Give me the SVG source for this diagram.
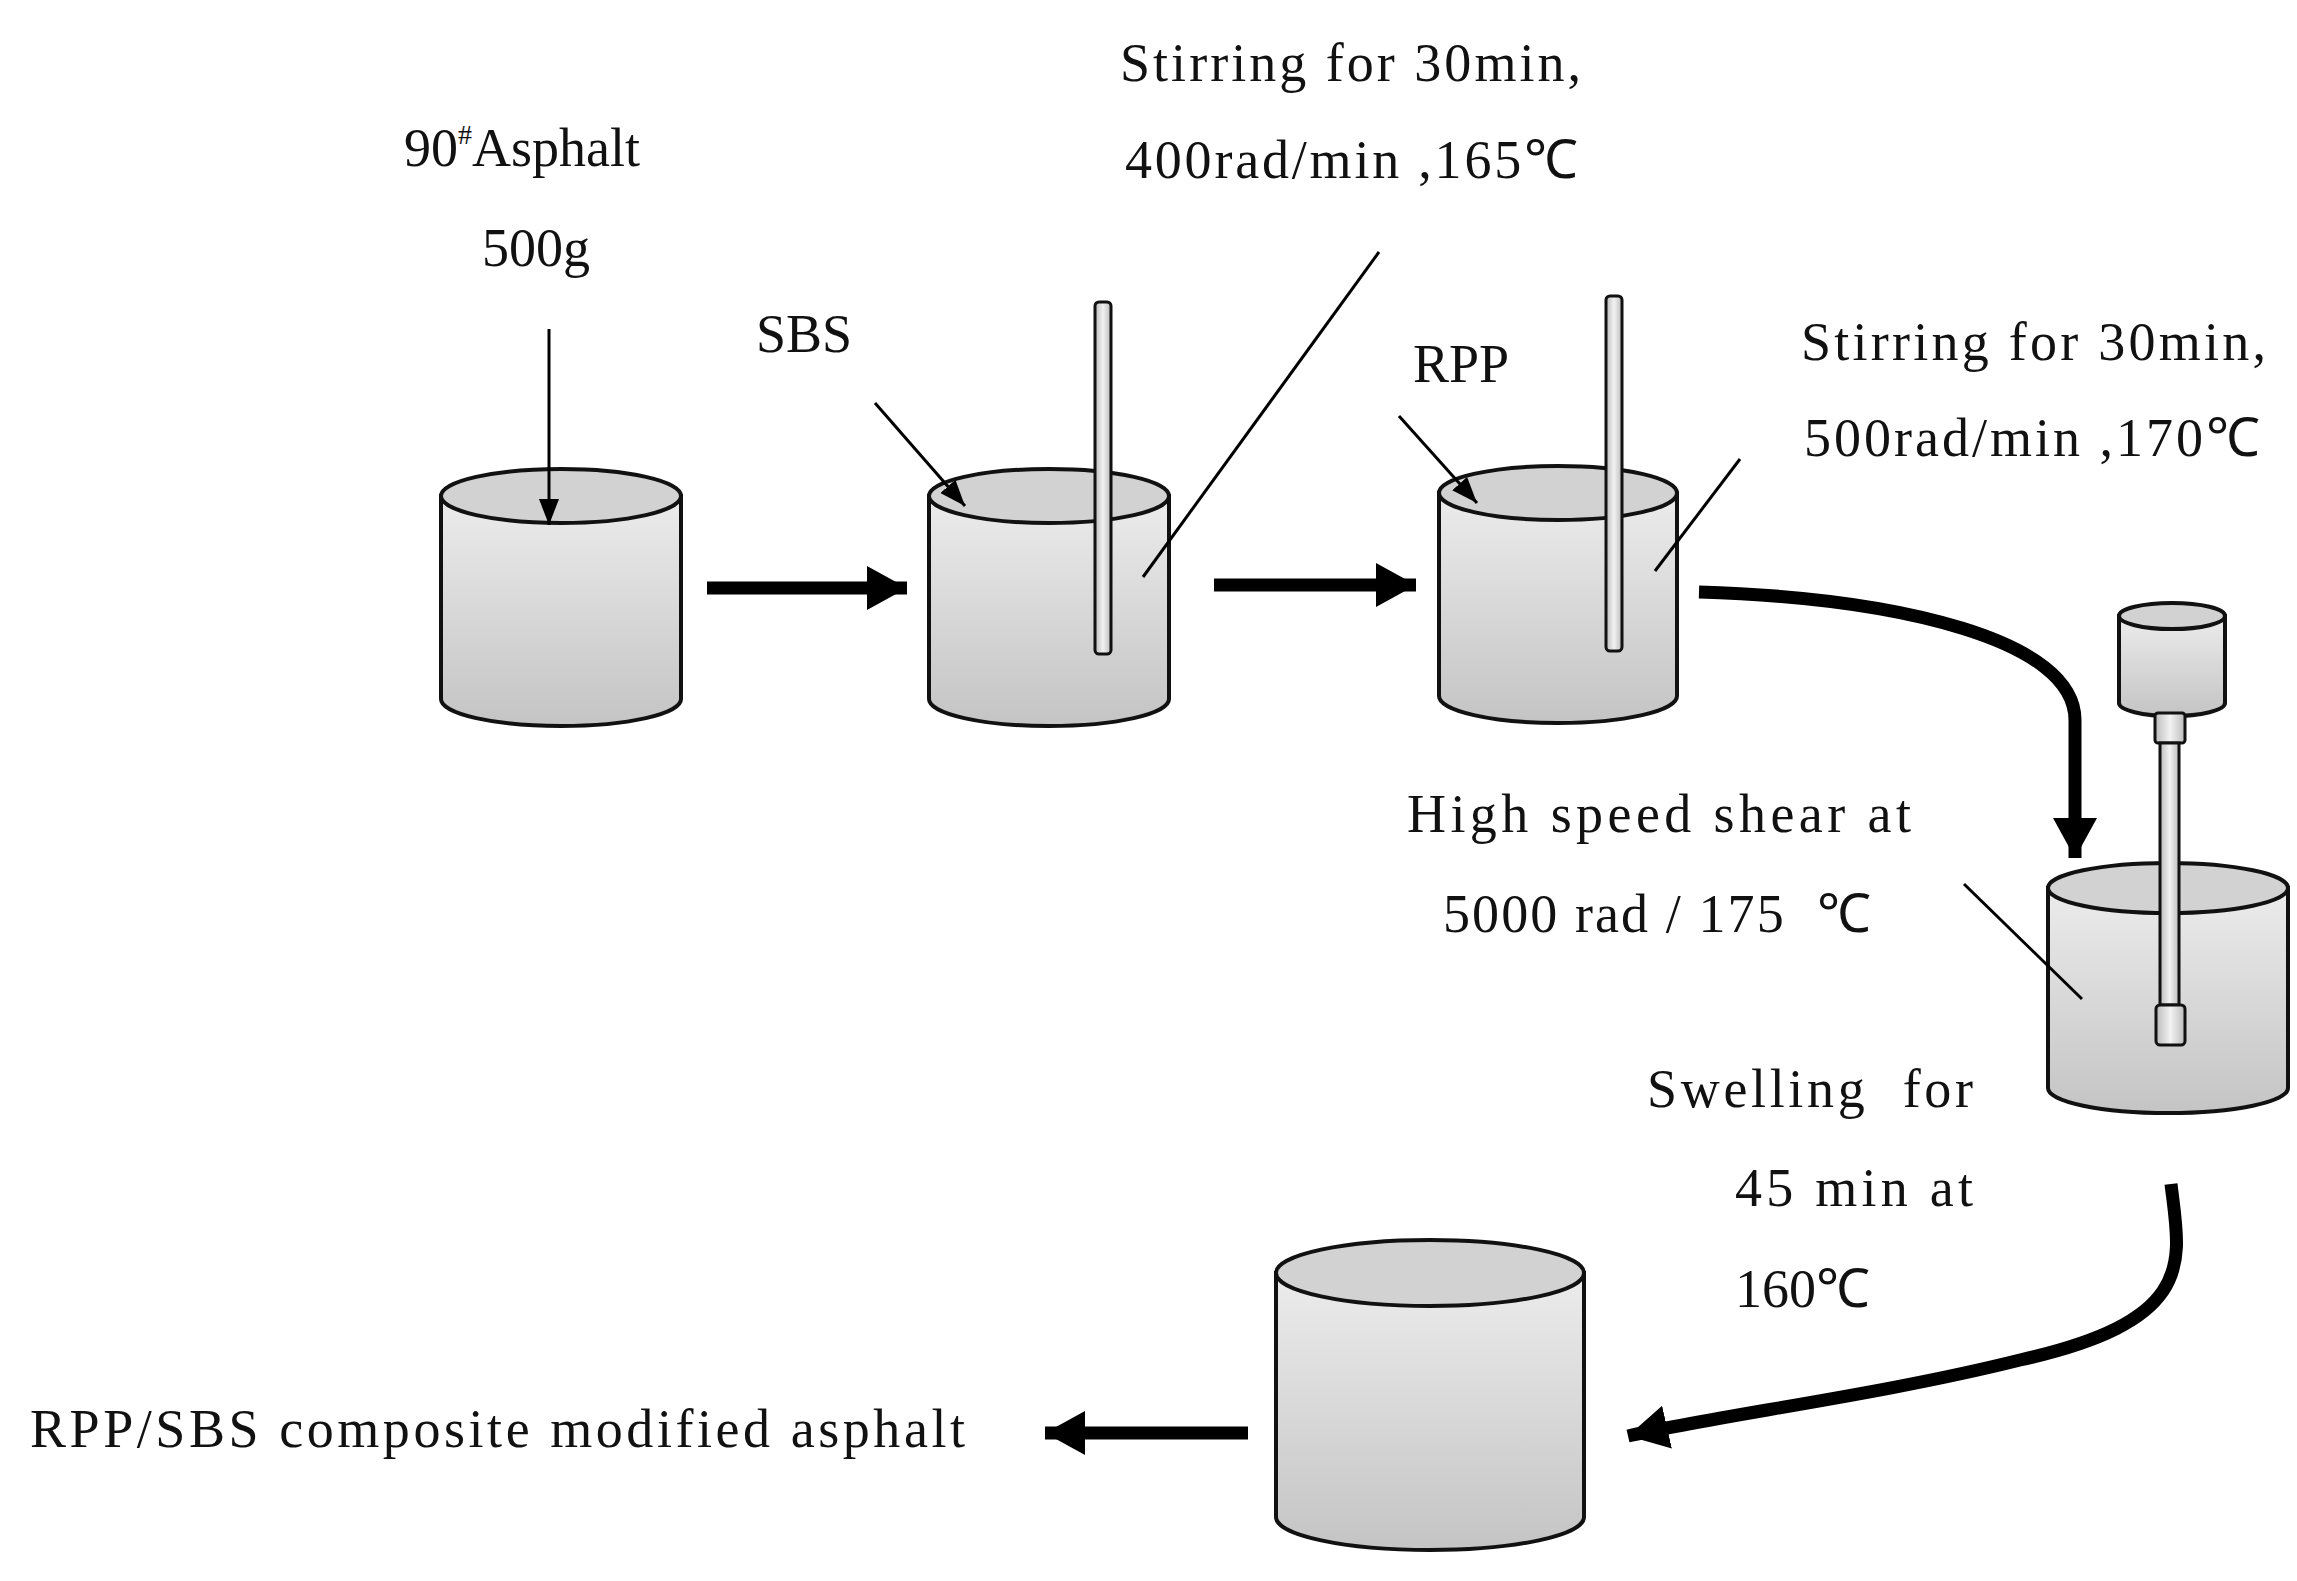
<svg xmlns="http://www.w3.org/2000/svg" width="2297" height="1581" viewBox="0 0 2297 1581">
<defs>
<linearGradient id="g" x1="0" y1="0" x2="0" y2="1"><stop offset="0" stop-color="#ececec"/><stop offset="1" stop-color="#c4c4c4"/></linearGradient>
<linearGradient id="rod" x1="0" y1="0" x2="1" y2="0"><stop offset="0" stop-color="#bbb"/><stop offset="0.5" stop-color="#f2f2f2"/><stop offset="1" stop-color="#bbb"/></linearGradient>
<marker id="big" markerUnits="userSpaceOnUse" markerWidth="44" markerHeight="50" refX="40" refY="25" orient="auto"><path d="M0,3 L40,25 L0,47 Z" fill="#000"/></marker>
<marker id="thin" markerUnits="userSpaceOnUse" markerWidth="30" markerHeight="30" refX="26" refY="15" orient="auto"><path d="M0,5 L26,15 L0,25 Z" fill="#000"/></marker>
</defs>
<style>
.body{fill:url(#g);stroke:#111;stroke-width:4}
.top{fill:#d2d2d2;stroke:#111;stroke-width:4}
.rod{fill:url(#rod);stroke:#111;stroke-width:3}
.t{font-family:"Liberation Serif",serif;font-size:54px;fill:#111}
.thick{stroke:#000;stroke-width:13;fill:none;marker-end:url(#big)}
.lead{stroke:#000;stroke-width:3;fill:none}
</style>
<rect width="2297" height="1581" fill="#fff"/>
<g id="cyl1">
<path class="body" d="M441,496 L441,699 A120,27 0 0 0 681,699 L681,496 Z"/>
<ellipse class="top" cx="561" cy="496" rx="120" ry="27"/>
</g>
<g id="cyl2">
<path class="body" d="M929,496 L929,699 A120,27 0 0 0 1169,699 L1169,496 Z"/>
<ellipse class="top" cx="1049" cy="496" rx="120" ry="27"/>
<rect class="rod" x="1095" y="302" width="16" height="352" rx="4"/>
</g>
<g id="cyl3">
<path class="body" d="M1439,493 L1439,696 A119,27 0 0 0 1677,696 L1677,493 Z"/>
<ellipse class="top" cx="1558" cy="493" rx="119" ry="27"/>
<rect class="rod" x="1606" y="296" width="16" height="355" rx="4"/>
</g>
<g id="cyl4">
<path class="body" d="M2048,888 L2048,1088 A120,25 0 0 0 2288,1088 L2288,888 Z"/>
<ellipse class="top" cx="2168" cy="888" rx="120" ry="25"/>
<path class="body" d="M2119,616 L2119,703 A53,13 0 0 0 2225,703 L2225,616 Z"/>
<ellipse class="top" cx="2172" cy="616" rx="53" ry="13"/>
<rect class="rod" x="2155" y="713" width="30" height="30" rx="3"/>
<rect class="rod" x="2160" y="743" width="19" height="262"/>
<rect class="rod" x="2156" y="1005" width="29" height="40" rx="4"/>
</g>
<g id="cyl5">
<path class="body" d="M1276,1273 L1276,1517 A154,33 0 0 0 1584,1517 L1584,1273 Z"/>
<ellipse class="top" cx="1430" cy="1273" rx="154" ry="33"/>
</g>
<g id="connectors">
<line class="thick" x1="707" y1="588" x2="907" y2="588"/>
<line class="thick" x1="1214" y1="585" x2="1416" y2="585"/>
<path class="thick" d="M1699,592 C1900,598 2075,640 2075,720 L2075,858"/>
<path class="thick" d="M2171,1184 C2180,1260 2200,1320 2020,1360 C1880,1395 1720,1415 1628,1436"/>
<line class="thick" x1="1248" y1="1433" x2="1045" y2="1433"/>
<line class="lead" x1="549" y1="329" x2="549" y2="525" marker-end="url(#thin)"/>
<line class="lead" x1="875" y1="403" x2="965" y2="506" marker-end="url(#thin)"/>
<line class="lead" x1="1399" y1="416" x2="1477" y2="503" marker-end="url(#thin)"/>
<line class="lead" x1="1379" y1="252" x2="1143" y2="577"/>
<line class="lead" x1="1740" y1="459" x2="1655" y2="571"/>
<line class="lead" x1="1964" y1="884" x2="2082" y2="999"/>
</g>
<g id="labels">
<text class="t" x="404" y="166">90<tspan font-size="28" dy="-22">#</tspan><tspan dy="22">Asphalt</tspan></text>
<text class="t" x="482" y="266">500g</text>
<text class="t" x="756" y="352">SBS</text>
<text class="t" x="1120" y="81" textLength="461">Stirring for 30min,</text>
<text class="t" x="1125" y="178" textLength="453">400rad/min ,165℃</text>
<text class="t" x="1413" y="382">RPP</text>
<text class="t" x="1801" y="360" textLength="465">Stirring for 30min,</text>
<text class="t" x="1804" y="456" textLength="456">500rad/min ,170℃</text>
<text class="t" x="1407" y="832" textLength="504">High speed shear at</text>
<text class="t" x="1443" y="932" textLength="428" xml:space="preserve">5000 rad / 175  ℃</text>
<text class="t" x="1647" y="1107" textLength="326" xml:space="preserve">Swelling  for</text>
<text class="t" x="1735" y="1206" textLength="238">45 min at</text>
<text class="t" x="1735" y="1307">160℃</text>
<text class="t" x="30" y="1447" textLength="935">RPP/SBS composite modified asphalt</text>
</g>
</svg>
